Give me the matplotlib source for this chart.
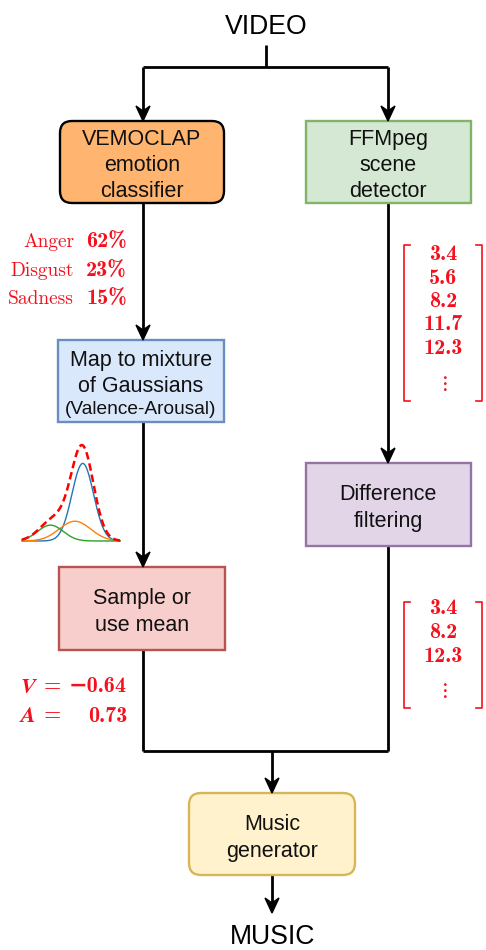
import numpy as np
import matplotlib
matplotlib.use("Agg")
import matplotlib.pyplot as plt
from matplotlib.patches import FancyBboxPatch, Polygon

plt.rcParams['axes.unicode_minus'] = False
plt.rcParams['mathtext.fontset'] = 'cm'

# ---------------- data ----------------
emotions = ["Anger", "Disgust", "Sadness"]
emotion_probs = [62, 23, 15]
gauss_means = [0.62, 0.54, 0.29]
gauss_sigmas = [0.11, 0.16, 0.13]
gauss_colors = ["#1f77b4", "#ff7f0e", "#2ca02c"]
scene_times = [3.4, 5.6, 8.2, 11.7, 12.3]
filtered_times = [3.4, 8.2, 12.3]
valence = -0.64
arousal = 0.73

RED = "#f5101e"
SANS = "Liberation Sans"
BOLD_SERIF = ["cmb10", "DejaVu Serif"]

fig = plt.figure(figsize=(4.86, 9.5), dpi=100)
ax = fig.add_axes([0, 0, 1, 1])
ax.set_xlim(0, 486)
ax.set_ylim(950, 0)
ax.axis("off")

LW = 2.0
TY = 2.5  # vertical text offset


def box(x0, y0, x1, y1, fc, ec, rounded=False):
    style = "round,pad=0,rounding_size=12" if rounded else "square,pad=0"
    ax.add_patch(FancyBboxPatch((x0, y0), x1 - x0, y1 - y0, boxstyle=style,
                                fc=fc, ec=ec, lw=1.7, zorder=3))


def lines_text(xc, ys, texts, sizes):
    for y, t, s in zip(ys, texts, sizes):
        ax.text(xc, y + TY, t, ha="center", va="center", fontsize=s,
                family=SANS, color="#111111", zorder=5)


def line(xs, ys):
    ax.plot(xs, ys, color="black", lw=LW, solid_capstyle="butt",
            solid_joinstyle="miter", zorder=2)


def arrowhead(x, ytip):
    ax.add_patch(Polygon([(x, ytip), (x - 7, ytip - 15), (x, ytip - 10),
                          (x + 7, ytip - 15)], closed=True,
                         fc="black", ec="black", lw=1, zorder=4))


# Top / bottom labels
ax.text(266, 25 + TY, "VIDEO", ha="center", va="center", fontsize=19.2, family=SANS)
ax.text(273, 944, "MUSIC", ha="center", va="baseline", fontsize=19.2, family=SANS)

# connectors
line([266, 266], [45, 67])
line([143, 388], [67, 67])
line([143, 143], [67, 115])
arrowhead(143, 121)
line([388, 388], [67, 115])
arrowhead(388, 121)

line([143, 143], [203, 333])
arrowhead(143, 340)
line([143, 143], [422, 560])
arrowhead(143, 567)
line([143, 143], [650, 751])

line([388, 388], [203, 456])
arrowhead(388, 463)
line([388, 388], [546, 751])

line([143, 388], [751, 751])
line([272, 272], [751, 786])
arrowhead(272, 793)
line([272, 272], [875, 906])
arrowhead(272, 913)

# boxes
box(60, 121, 224, 203, "#FFB570", "black", rounded=True)
lines_text(142, [137, 163, 189], ["VEMOCLAP", "emotion", "classifier"], [15.5] * 3)

box(306, 121, 471, 203, "#D5E8D4", "#82B366")
lines_text(388, [137, 163, 189], ["FFMpeg", "scene", "detector"], [15.5] * 3)

box(58, 340, 224, 422, "#DAE8FC", "#6C8EBF")
lines_text(141, [358, 384, 407], ["Map to mixture", "of Gaussians", "(Valence-Arousal)"],
           [15.5, 15.5, 13.8])

box(306, 463, 471, 546, "#E1D5E7", "#9673A6")
lines_text(388, [492, 519], ["Difference", "filtering"], [15.5] * 2)

box(59, 567, 225, 650, "#F8CECC", "#B85450")
lines_text(142, [596, 623], ["Sample or", "use mean"], [15.5] * 2)

box(189, 793, 355, 875, "#FFF2CC", "#D6B656", rounded=True)
lines_text(272, [822, 849], ["Music", "generator"], [15.5] * 2)

# emotion probabilities
for i, (e, p) in enumerate(zip(emotions, emotion_probs)):
    y = 242 + i * 28.5
    ax.text(74, y, e, ha="right", va="center", fontsize=14,
            family="cmr10", color=RED)
    ax.text(127, y, f"{p}%", ha="right", va="center", fontsize=16,
            family=BOLD_SERIF, color=RED)


# bracket lists
def bracket_list(values, y_top, y_bot, y_first, step, y_dots):
    xl, xr = 404, 482
    ax.plot([xl + 6, xl, xl, xl + 6], [y_top, y_top, y_bot, y_bot],
            color=RED, lw=1.2)
    ax.plot([xr - 6, xr, xr, xr - 6], [y_top, y_top, y_bot, y_bot],
            color=RED, lw=1.2)
    for i, v in enumerate(values):
        ax.text(443, y_first + i * step, f"{v}", ha="center", va="center",
                fontsize=16, family=BOLD_SERIF, color=RED)
    ax.text(443, y_dots, r"$\vdots$", ha="center", va="center",
            fontsize=15, color=RED)


bracket_list(scene_times, 245, 401, 255, 23.3, 383)
bracket_list(filtered_times, 602, 708, 608, 24.5, 690)

# V / A values
for y, sym, val in [(687, "V", valence), (716, "A", arousal)]:
    ax.text(28, y, sym, ha="center", va="center", fontsize=16,
            family="STIXGeneral", style="italic", weight="bold", color=RED)
    ax.text(52, y, "=", ha="center", va="center", fontsize=16,
            family=BOLD_SERIF, color=RED)
    ax.text(127, y, f"{val:.2f}".replace("-", "\u2212"), ha="right", va="center",
            fontsize=16, family=BOLD_SERIF, weight="bold", color=RED)

# Gaussian mixture inset
W = 950
iax = fig.add_axes([22 / 486, 1 - 541 / W, 98 / 486, 96 / W])
iax.axis("off")
xs = np.linspace(0, 1, 300)
comps = []
for m, s, w in zip(gauss_means, gauss_sigmas, emotion_probs):
    comps.append((w / 100) * np.exp(-0.5 * ((xs - m) / s) ** 2) / (s * np.sqrt(2 * np.pi)))
total = np.sum(comps, axis=0)
for yv, c in zip(comps, gauss_colors):
    iax.plot(xs, yv, color=c, lw=1.0, clip_on=False)
iax.plot(xs, total, color="red", lw=1.8, ls=(0, (3, 1.6)), clip_on=False)
iax.set_xlim(0, 1)
iax.set_ylim(0, total.max())

fig.savefig("out.png", dpi=100)
